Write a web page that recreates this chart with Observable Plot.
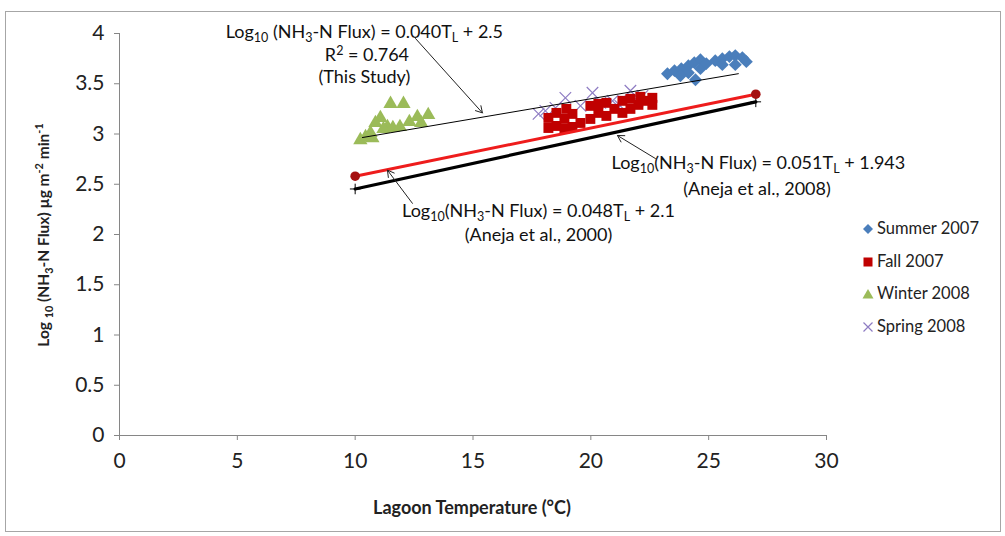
<!DOCTYPE html>
<html><head><meta charset="utf-8">
<script src="https://cdn.jsdelivr.net/npm/d3@7"></script>
<script src="https://cdn.jsdelivr.net/npm/@observablehq/plot@0.6"></script>
<style>
body{margin:0;background:#fff;font-family:Lato,"Open Sans",sans-serif;color:#222;}
#wrap{position:relative;width:1005px;height:536px;overflow:hidden;background:#fff;}
#frame{position:absolute;left:5px;top:11px;width:996px;height:521px;border:1px solid #a6a6a6;box-sizing:border-box;}
#chart{position:absolute;left:0;top:0;}
.ytitle{position:absolute;left:43px;top:235px;transform:translate(-50%,-50%) rotate(-90deg);white-space:nowrap;font-weight:bold;font-size:15.5px;}
.xtitle{position:absolute;left:472px;top:507px;transform:translate(-50%,-50%);white-space:nowrap;font-weight:bold;font-size:18px;}
sub,sup{font-size:70%;line-height:0;}
.legend{position:absolute;left:862px;top:218px;font-size:16.5px;}
.legend div{position:absolute;left:0;white-space:nowrap;height:20px;line-height:20px;}
.legend svg{vertical-align:-1px;margin-right:3px;}
</style></head>
<body>
<div id="wrap">
  <div id="frame"></div>
  <div id="chart"></div>
  <div class="ytitle">Log <sub>10</sub> (NH<sub>3</sub>-N Flux) µg m<sup>-2</sup> min<sup>-1</sup></div>
  <div class="xtitle">Lagoon Temperature (°C)</div>
  <div class="legend" id="legend"></div>
</div>
<script>
// ---- Data ----
const seriesNames = ["Summer 2007", "Fall 2007", "Winter 2008", "Spring 2008"];
const seriesColors = ["#4a7ebb", "#c00000", "#9bbb59", "#8e7cc3"];

const summerTemp = [23.25, 23.55, 23.84, 24.14, 24.39, 24.65, 24.14, 24.44, 24.65, 24.9, 25.28, 25.58, 25.88, 26.13, 26.43, 26.6, 26.13, 25.58, 23.8];
const summerFlux = [3.60, 3.63, 3.65, 3.68, 3.71, 3.74, 3.61, 3.54, 3.65, 3.70, 3.73, 3.75, 3.77, 3.78, 3.76, 3.72, 3.69, 3.69, 3.58];

const fallTemp = [18.2, 18.2, 18.54, 18.54, 18.88, 18.88, 19.22, 19.22, 19.56, 19.98, 19.98, 20.32, 20.32, 20.66, 20.66, 21.0, 21.34, 21.34, 21.68, 21.68, 22.02, 22.32, 22.61, 22.61, 22.1, 18.96];
const fallFlux = [3.06, 3.16, 3.08, 3.21, 3.05, 3.15, 3.07, 3.20, 3.11, 3.15, 3.28, 3.21, 3.30, 3.18, 3.31, 3.25, 3.21, 3.33, 3.25, 3.35, 3.29, 3.33, 3.29, 3.36, 3.37, 3.25];

const winterTemp = [11.5, 12.05, 12.64, 13.1, 11.07, 10.86, 10.44, 10.22, 11.37, 11.6, 11.9, 10.65, 11.2, 12.3, 12.8, 10.73];
const winterFlux = [3.30, 3.30, 3.17, 3.19, 3.16, 3.11, 2.97, 2.94, 3.07, 3.06, 3.07, 3.01, 3.05, 3.12, 3.11, 2.96];

const springTemp = [17.78, 18.07, 18.5, 18.92, 19.56, 20.07, 20.4, 20.92, 21.25, 21.68, 21.98, 22.19];
const springFlux = [3.20, 3.23, 3.26, 3.36, 3.28, 3.41, 3.31, 3.33, 3.28, 3.43, 3.33, 3.38];

// Regression lines (endpoints)
const thisStudyTemp = [10.31, 26.26];
const thisStudyFlux = [2.965, 3.60];
const aneja2008Temp = [10, 27];
const aneja2008Flux = [2.453, 3.32];
const aneja2000Temp = [10, 27];
const aneja2000Flux = [2.58, 3.396];

// Annotations (centred)
const annoText = [
  "Log_{10} (NH_{3}-N Flux) = 0.040T_{L} + 2.5",
  "R^{2} = 0.764",
  "(This Study)",
  "Log_{10}(NH_{3}-N Flux) = 0.051T_{L} + 1.943",
  "(Aneja et al., 2008)",
  "Log_{10}(NH_{3}-N Flux) = 0.048T_{L} + 2.1",
  "(Aneja et al., 2000)"
];
const annoTemp = [10.39, 10.5, 10.39, 27.11, 27.05, 17.78, 17.78];
const annoFlux = [4.01, 3.785, 3.56, 2.71, 2.455, 2.235, 1.995];

const arrowFrom = [[12.56, 3.95], [22.74, 2.756], [12.43, 2.31]];
const arrowTo = [[15.4, 3.21], [21.13, 2.985], [11.37, 2.64]];

const xTicks = [0, 5, 10, 15, 20, 25, 30];
const yTicks = [0, 0.5, 1, 1.5, 2, 2.5, 3, 3.5, 4];

// ---- Build tables ----
const zip = (xs, ys) => xs.map((x, i) => ({x, y: ys[i]}));
const summer = zip(summerTemp, summerFlux);
const fall = zip(fallTemp, fallFlux);
const winter = zip(winterTemp, winterFlux);
const spring = zip(springTemp, springFlux);
const annos = annoText.map((t, i) => ({t, x: annoTemp[i], y: annoFlux[i]}));
const arrows = arrowFrom.map((a, i) => ({x1: a[0], y1: a[1], x2: arrowTo[i][0], y2: arrowTo[i][1]}));

const plot = Plot.plot({
  width: 1005, height: 536,
  marginLeft: 119, marginRight: 179, marginTop: 33, marginBottom: 101,
  style: {fontFamily: "Lato, 'Open Sans', sans-serif", background: "transparent", overflow: "visible"},
  x: {domain: [0, 30]},
  y: {domain: [0, 4]},
  marks: [
    Plot.ruleY([0], {stroke: "#868686"}),
    Plot.ruleX([0], {stroke: "#868686"}),
    Plot.axisX({ticks: xTicks, tickSize: 5, tickPadding: 13, fontSize: 21, stroke: "#868686", fill: "#222", label: null, tickFormat: d => String(d)}),
    Plot.axisY({ticks: yTicks, tickSize: 5, tickPadding: 10, fontSize: 21, stroke: "#868686", fill: "#222", label: null, tickFormat: d => String(d)}),
    Plot.dot(winter, {x: "x", y: "y", symbol: "triangle", r: 5.3, fill: seriesColors[2], stroke: "none"}),
    Plot.dot(summer, {x: "x", y: "y", symbol: "diamond2", r: 5.8, fill: seriesColors[0], stroke: "none"}),
    Plot.dot(spring, {x: "x", y: "y", symbol: "times", r: 5.3, stroke: seriesColors[3], strokeWidth: 1.2, fill: "none"}),
    Plot.dot(fall, {x: "x", y: "y", symbol: "square", r: 5.6, fill: seriesColors[1], stroke: "none"}),
    Plot.line(zip(thisStudyTemp, thisStudyFlux), {x: "x", y: "y", stroke: "#000", strokeWidth: 1}),
    Plot.line(zip(aneja2008Temp, aneja2008Flux), {x: "x", y: "y", stroke: "#000", strokeWidth: 3.2}),
    Plot.dot(zip(aneja2008Temp, aneja2008Flux), {x: "x", y: "y", symbol: "plus", r: 3.5, stroke: "#000", strokeWidth: 1}),
    Plot.line(zip(aneja2000Temp, aneja2000Flux), {x: "x", y: "y", stroke: "#ee1c1c", strokeWidth: 3}),
    Plot.dot(zip(aneja2000Temp, aneja2000Flux), {x: "x", y: "y", r: 4.8, fill: "#a50f0f", stroke: "none"}),
    Plot.arrow(arrows, {x1: "x1", y1: "y1", x2: "x2", y2: "y2", stroke: "#222", strokeWidth: 1, headLength: 11, bend: 0}),
    Plot.text(annos, {x: "x", y: "y", text: "t", textAnchor: "middle", fontSize: 18, fill: "#111"})
  ]
});
document.getElementById("chart").appendChild(plot);

// Rich text (subscripts / superscripts) for annotations
const NS = "http://www.w3.org/2000/svg";
plot.querySelectorAll('g[aria-label="text"] text').forEach(el => {
  const s = el.textContent;
  if (!/[_^]\{/.test(s)) return;
  el.textContent = "";
  let shift = 0;
  s.split(/([_^]\{[^}]*\})/).forEach(p => {
    if (!p) return;
    const t = document.createElementNS(NS, "tspan");
    let target = 0;
    if (p.startsWith("_{")) { t.textContent = p.slice(2, -1); t.setAttribute("font-size", "12.5"); target = 4; }
    else if (p.startsWith("^{")) { t.textContent = p.slice(2, -1); t.setAttribute("font-size", "12.5"); target = -6; }
    else t.textContent = p;
    t.setAttribute("dy", target - shift);
    shift = target;
    el.appendChild(t);
  });
});

// Legend
const legendY = [0, 32.5, 65, 97.5];
const symPaths = [
  `<path d="M6,1 L11,6 L6,11 L1,6 Z" fill="${seriesColors[0]}"/>`,
  `<rect x="1.5" y="1.5" width="9" height="9" fill="${seriesColors[1]}"/>`,
  `<path d="M6,1 L11.5,10.5 L0.5,10.5 Z" fill="${seriesColors[2]}"/>`,
  `<path d="M1.5,1.5 L10.5,10.5 M10.5,1.5 L1.5,10.5" stroke="${seriesColors[3]}" stroke-width="1.2"/>`
];
const leg = document.getElementById("legend");
seriesNames.forEach((n, i) => {
  const d = document.createElement("div");
  d.style.top = legendY[i] + "px";
  d.innerHTML = `<svg width="12" height="12">${symPaths[i]}</svg>${n}`;
  leg.appendChild(d);
});
</script>
</body></html>
